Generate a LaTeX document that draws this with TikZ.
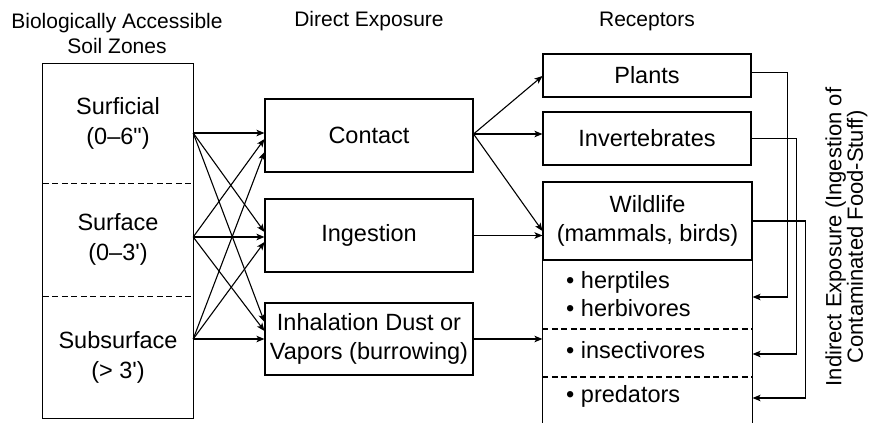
\documentclass[tikz,border=0pt]{standalone}
\usepackage{fontspec}
\newfontfamily\helv{Liberation Sans}
\usetikzlibrary{arrows.meta,calc}

\tikzset{
  ln/.style={line width=1.1pt},
  box/.style={ln, draw, inner sep=0pt, align=center, font=\helv\fontsize{23.5}{29.5}\selectfont},
  zone/.style={inner sep=0pt, align=center, font=\helv\fontsize{23.5}{30}\selectfont},
  item/.style={inner sep=0pt, anchor=base west, font=\helv\fontsize{23.5}{28}\selectfont},
  hdr/.style={inner sep=0pt, align=center, font=\helv\fontsize{21}{25}\selectfont},
  side/.style={inner sep=0pt, align=center, font=\helv\fontsize{22}{21.5}\selectfont},
  conn/.style={ln, -{Stealth[length=8pt,width=6.5pt,inset=2pt]}},
  sep/.style={ln, dash pattern=on 6pt off 3.5pt},
}

\begin{document}
\begin{tikzpicture}[x=1pt,y=-1pt]
\useasboundingbox (0,0) rectangle (869,423);

% column headings
\node[hdr] (hzones) at (117,33) {Biologically Accessible\\Soil Zones};
\node[hdr, anchor=base] (hdirect) at (369,27) {Direct Exposure};
\node[hdr, anchor=base] (hrecept) at (647,27) {Receptors};

% soil zones
\node[zone, minimum width=150pt, minimum height=119pt] (z1) at (118,123.5) {Surficial\\(0–6")};
\node[zone, minimum width=150pt, minimum height=113pt] (z2) at (118,239.5) {Surface\\(0–3')};
\node[zone, minimum width=150pt, minimum height=122pt] (z3) at (118,357) {Subsurface\\(> 3')};
\draw[ln] (z1.north west) rectangle (z3.south east);
\draw[sep] (z1.south west) -- (z1.south east);
\draw[sep] (z2.south west) -- (z2.south east);

% direct exposure routes
\node[box, minimum width=208pt, minimum height=73pt] (contact) at (369,135.5) {Contact};
\node[box, minimum width=208pt, minimum height=73pt] (ingest) at (369,235.5) {Ingestion};
\node[box, minimum width=208pt, minimum height=72pt] (inhal) at (369,339) {Inhalation Dust or\\Vapors (burrowing)};

% receptors
\node[box, minimum width=208pt, minimum height=43pt] (plants) at (647,75.5) {Plants};
\node[box, minimum width=208pt, minimum height=53pt] (invert) at (647,138.5) {Invertebrates};
\node[box, minimum width=209pt, minimum height=78pt] (wild) at (647.5,221) {Wildlife\\(mammals, birds)};
\coordinate (wbl) at (wild.south west |- 0,423);
\coordinate (wbr) at (wild.south east |- 0,423);
\draw[ln] (wild.south west) -- (wbl);
\draw[ln] (wild.south east) -- (wbr);
\draw[sep] (wild.west |- 0,329) -- (wild.east |- 0,329);
\draw[sep] (wild.west |- 0,377) -- (wild.east |- 0,377);
\node[item] (herp) at (566,288) {• herptiles};
\node[item] (herb) at (566,316) {• herbivores};
\node[item] (insect) at (566,358) {• insectivores};
\node[item] (pred) at (566,402) {• predators};

% soil zones to exposure routes
\coordinate (s1) at (z1.east |- 0,133);
\coordinate (s2) at (z2.east |- 0,237);
\coordinate (s3) at (z3.east |- 0,339);
\draw[conn] (s1) -- (contact.west |- 0,133);
\draw[conn] (s1) -- (ingest.west |- 0,232);
\draw[conn] (s1) -- (inhal.west |- 0,322);
\draw[conn] (s2) -- (contact.west |- 0,139);
\draw[conn] (s2) -- (ingest.west |- 0,237);
\draw[conn] (s2) -- (inhal.west |- 0,331);
\draw[conn] (s3) -- (contact.west |- 0,152);
\draw[conn] (s3) -- (ingest.west |- 0,242);
\draw[conn] (s3) -- (inhal.west |- 0,339);

% exposure routes to receptors
\coordinate (c0) at (contact.east |- 0,134);
\draw[conn] (c0) -- (plants.west |- 0,76);
\draw[conn] (c0) -- (invert.west |- 0,134);
\draw[conn] (c0) -- (wild.west |- 0,231);
\draw[conn] (ingest.east) -- (wild.west |- ingest.east);
\draw[conn] (inhal.east) -- (wild.west |- inhal.east);

% indirect exposure through the food chain
\draw[conn] ([yshift=3pt]plants.east) -- ++(36,0) |- (wild.east |- 0,297);
\draw[conn] (invert.east) -- ++(45,0) |- (wild.east |- 0,354);
\draw[conn] (wild.east) -- ++(53,0) |- (wild.east |- 0,398);
\node[side, rotate=90] (indirect) at (846.5,237) {Indirect Exposure (Ingestion of\\Contaminated Food-Stuff)};
\end{tikzpicture}
\end{document}
